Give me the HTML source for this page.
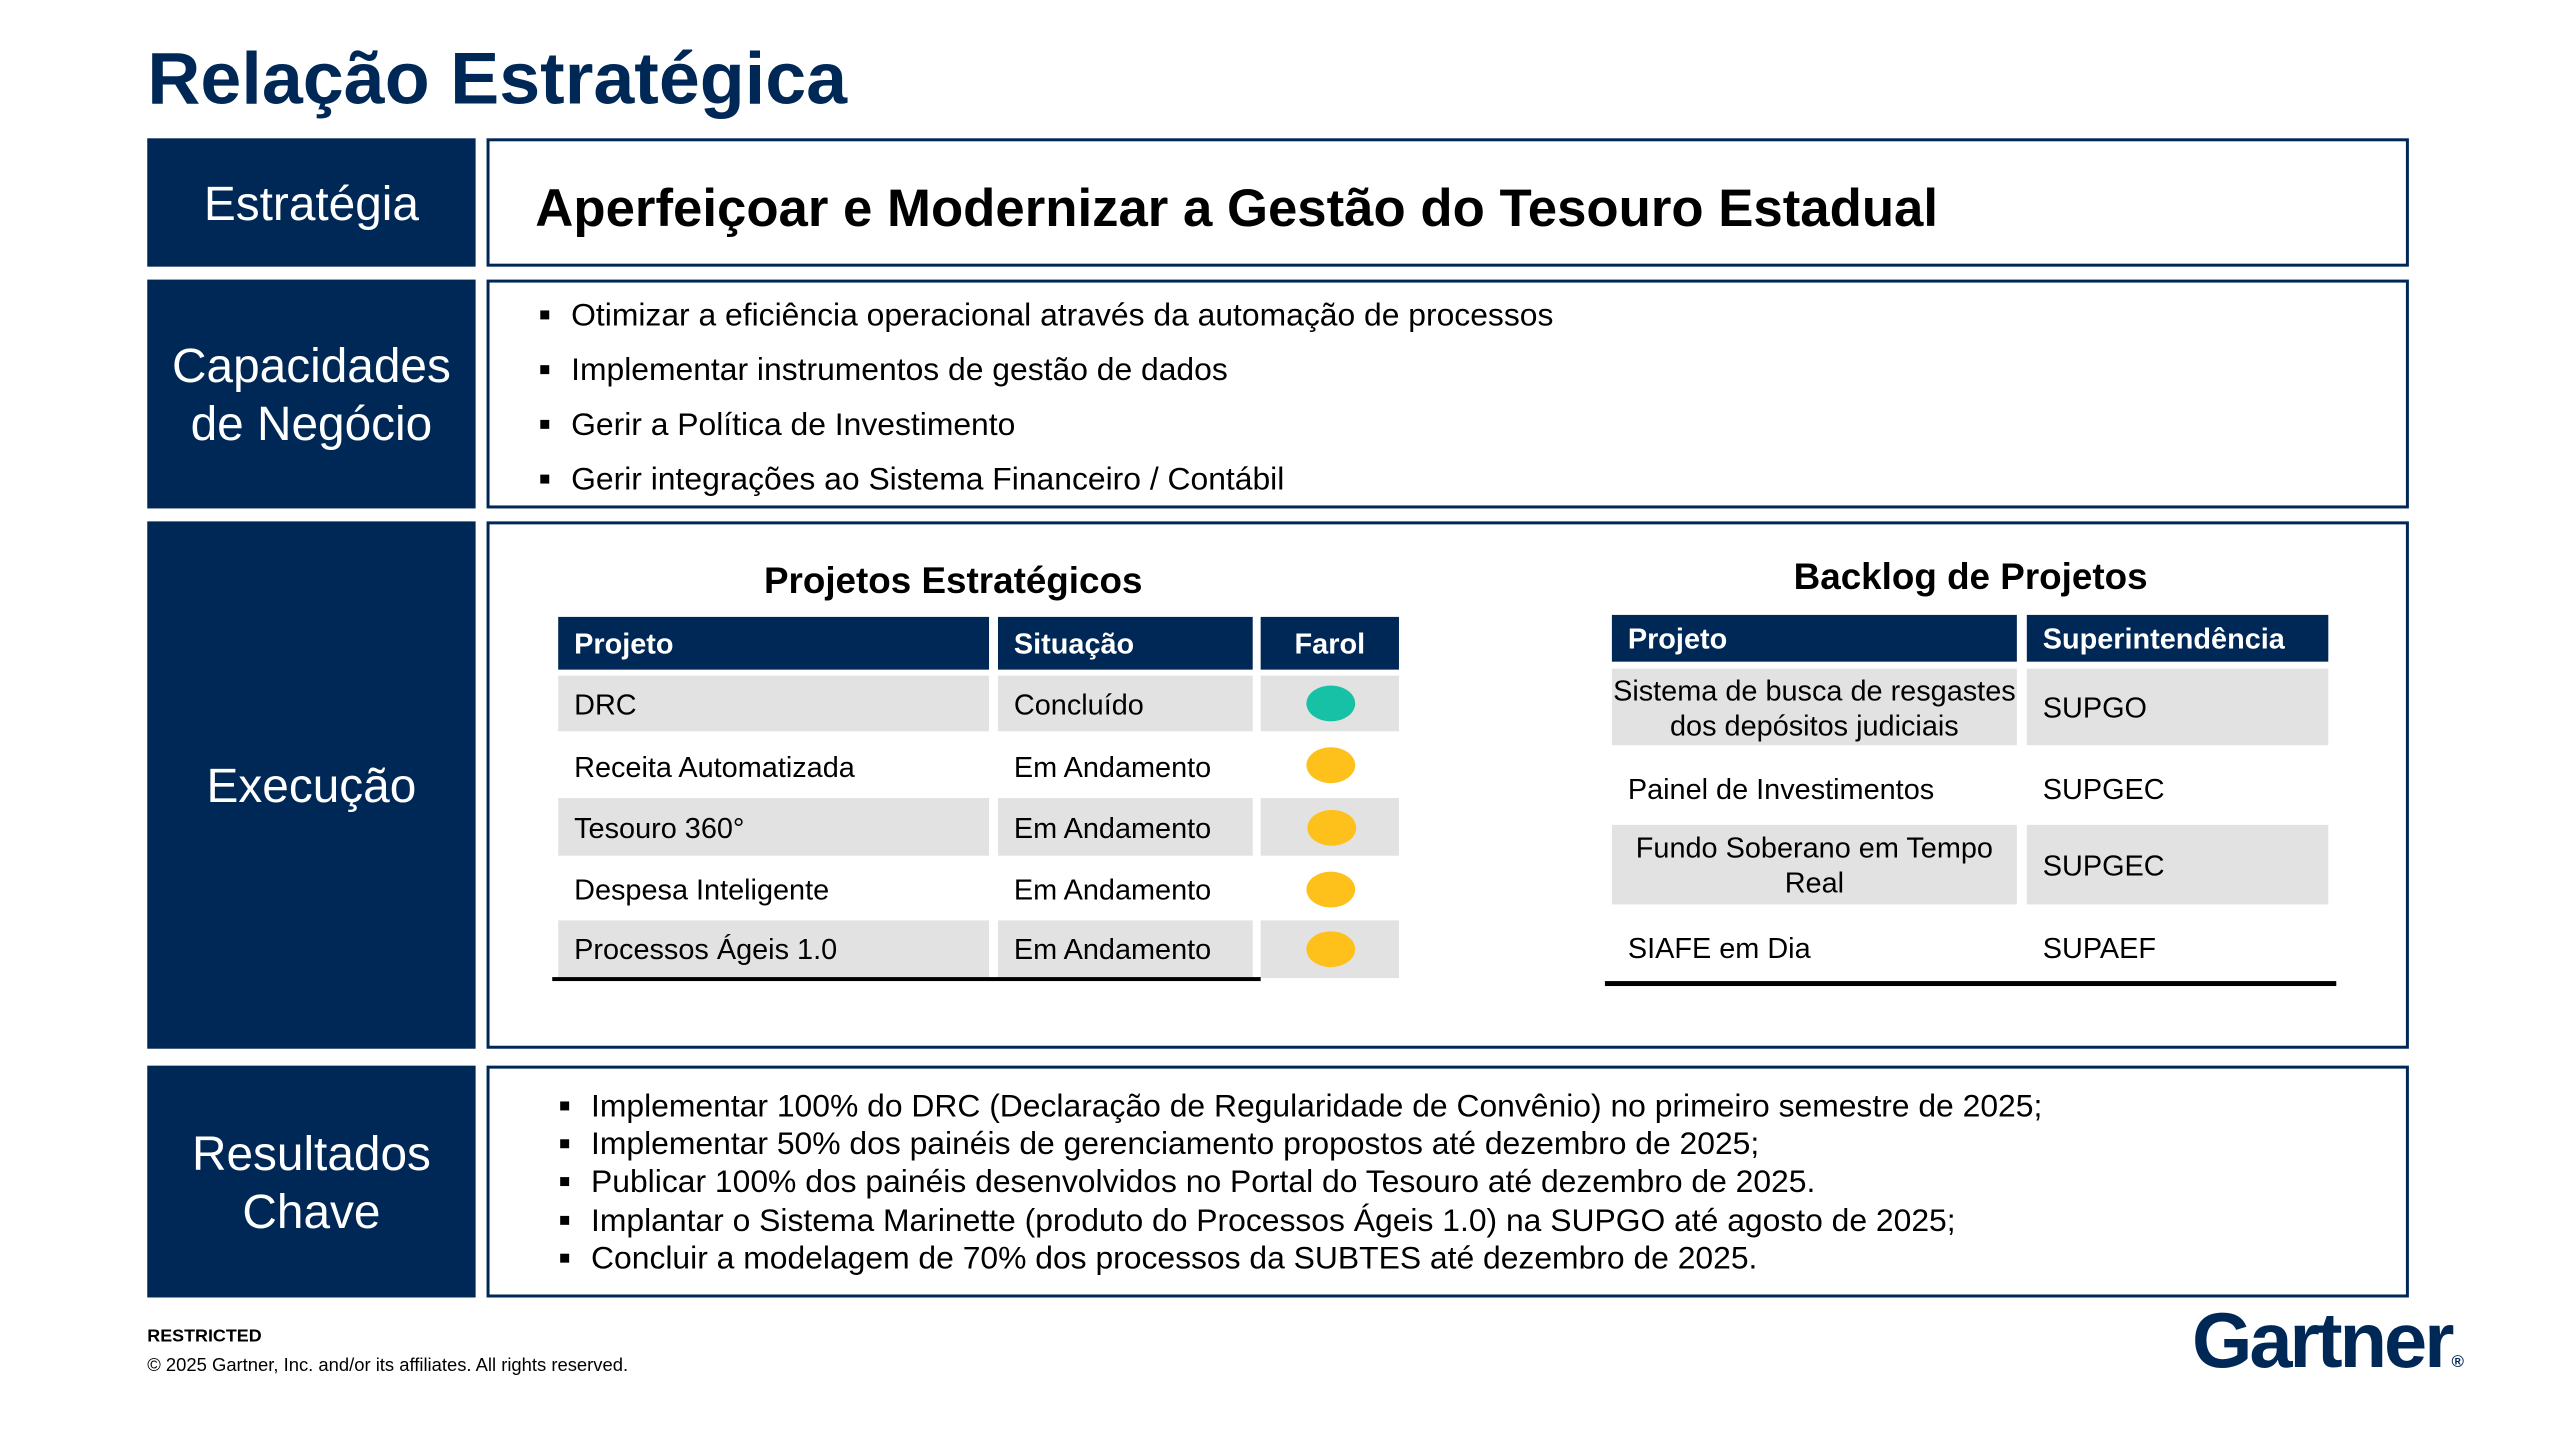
<!DOCTYPE html>
<html><head><meta charset="utf-8"><style>
*{margin:0;padding:0;box-sizing:border-box}
body{width:2560px;height:1440px;background:#fff;position:relative;overflow:hidden;font-family:"Liberation Sans",Arial,sans-serif;color:#000}
#w{position:absolute;left:0;top:0;width:2560px;height:1440px;transform:scale(0.995);transform-origin:0 0}
.a{position:absolute}
.nav{position:absolute;background:#002856;color:#fff;left:148px;width:330px;display:flex;align-items:center;justify-content:center;text-align:center;font-size:48px;line-height:58px;padding-top:4px}
.box{position:absolute;left:489px;width:1932px;border:3px solid #002856}
.bul{position:absolute;font-size:32px;white-space:nowrap}
.bul:before{content:"";position:absolute;left:-31px;top:14px;width:9px;height:9px;background:#000}
.c{position:absolute;display:flex;align-items:center;font-size:29px;white-space:nowrap;padding-left:16px;padding-top:4px}
.h{background:#002856;color:#fff;font-weight:bold}
.g{background:#e2e2e2}
.dot{position:absolute;width:49px;height:36px;border-radius:50%}
</style></head><body><div id="w">
<div class="a" style="left:148px;top:36px;font-size:74px;font-weight:bold;color:#002856">Relação Estratégica</div>

<div class="nav" style="top:139px;height:129px">Estratégia</div>
<div class="box" style="top:139px;height:129px"></div>
<div class="a" style="left:538px;top:179px;font-size:53px;font-weight:bold;white-space:nowrap">Aperfeiçoar e Modernizar a Gestão do Tesouro Estadual</div>

<div class="nav" style="top:281px;height:230px">Capacidades<br>de Negócio</div>
<div class="box" style="top:281px;height:230px"></div>
<div class="bul" style="left:574px;top:298px">Otimizar a eficiência operacional através da automação de processos</div>
<div class="bul" style="left:574px;top:353px">Implementar instrumentos de gestão de dados</div>
<div class="bul" style="left:574px;top:408px">Gerir a Política de Investimento</div>
<div class="bul" style="left:574px;top:463px">Gerir integrações ao Sistema Financeiro / Contábil</div>

<div class="nav" style="top:524px;height:530px">Execução</div>
<div class="box" style="top:524px;height:530px"></div>

<div class="a" style="left:535px;width:846px;top:563px;text-align:center;font-size:37px;font-weight:bold">Projetos Estratégicos</div>
<div class="c h" style="left:561px;top:620px;width:433px;height:53px">Projeto</div>
<div class="c h" style="left:1003px;top:620px;width:256px;height:53px">Situação</div>
<div class="c h" style="left:1267px;top:620px;width:139px;height:53px;justify-content:center;padding-left:0">Farol</div>

<div class="c g" style="left:561px;top:679px;width:433px;height:56px">DRC</div>
<div class="c g" style="left:1003px;top:679px;width:256px;height:56px">Concluído</div>
<div class="c g" style="left:1267px;top:679px;width:139px;height:56px"></div>
<div class="c" style="left:561px;top:742px;width:433px;height:56px">Receita Automatizada</div>
<div class="c" style="left:1003px;top:742px;width:256px;height:56px">Em Andamento</div>
<div class="c g" style="left:561px;top:802px;width:433px;height:58px">Tesouro 360°</div>
<div class="c g" style="left:1003px;top:802px;width:256px;height:58px">Em Andamento</div>
<div class="c g" style="left:1267px;top:802px;width:139px;height:58px"></div>
<div class="c" style="left:561px;top:865px;width:433px;height:56px">Despesa Inteligente</div>
<div class="c" style="left:1003px;top:865px;width:256px;height:56px">Em Andamento</div>
<div class="c g" style="left:561px;top:925px;width:433px;height:57px">Processos Ágeis 1.0</div>
<div class="c g" style="left:1003px;top:925px;width:256px;height:57px">Em Andamento</div>
<div class="c g" style="left:1267px;top:925px;width:139px;height:58px"></div>
<div class="a" style="left:555px;top:982px;width:712px;height:4px;background:#000"></div>
<div class="dot" style="left:1313px;top:689px;background:#17c1a5"></div>
<div class="dot" style="left:1313px;top:751px;background:#fec01a"></div>
<div class="dot" style="left:1314px;top:814px;background:#fec01a"></div>
<div class="dot" style="left:1313px;top:876px;background:#fec01a"></div>
<div class="dot" style="left:1313px;top:936px;background:#fec01a"></div>

<div class="a" style="left:1613px;width:735px;top:559px;text-align:center;font-size:37px;font-weight:bold">Backlog de Projetos</div>
<div class="c h" style="left:1620px;top:618px;width:407px;height:47px">Projeto</div>
<div class="c h" style="left:2037px;top:618px;width:303px;height:47px">Superintendência</div>
<div class="c g" style="left:1620px;top:672px;width:407px;height:77px;justify-content:center;text-align:center;padding-left:0;white-space:normal;line-height:35px">Sistema de busca de resgastes dos depósitos judiciais</div>
<div class="c g" style="left:2037px;top:672px;width:303px;height:77px">SUPGO</div>
<div class="c" style="left:1620px;top:763px;width:407px;height:58px">Painel de Investimentos</div>
<div class="c" style="left:2037px;top:763px;width:303px;height:58px">SUPGEC</div>
<div class="c g" style="left:1620px;top:829px;width:407px;height:80px;justify-content:center;text-align:center;padding-left:20px;padding-right:20px;white-space:normal;line-height:35px">Fundo Soberano em Tempo Real</div>
<div class="c g" style="left:2037px;top:829px;width:303px;height:80px">SUPGEC</div>
<div class="c" style="left:1620px;top:923px;width:407px;height:58px">SIAFE em Dia</div>
<div class="c" style="left:2037px;top:923px;width:303px;height:58px">SUPAEF</div>
<div class="a" style="left:1613px;top:986px;width:735px;height:5px;background:#000"></div>

<div class="nav" style="top:1071px;height:233px">Resultados<br>Chave</div>
<div class="box" style="top:1071px;height:233px"></div>
<div class="bul" style="left:594px;top:1093px">Implementar 100% do DRC (Declaração de Regularidade de Convênio) no primeiro semestre de 2025;</div>
<div class="bul" style="left:594px;top:1131px">Implementar 50% dos painéis de gerenciamento propostos até dezembro de 2025;</div>
<div class="bul" style="left:594px;top:1169px">Publicar 100% dos painéis desenvolvidos no Portal do Tesouro até dezembro de 2025.</div>
<div class="bul" style="left:594px;top:1208px">Implantar o Sistema Marinette (produto do Processos Ágeis 1.0) na SUPGO até agosto de 2025;</div>
<div class="bul" style="left:594px;top:1246px">Concluir a modelagem de 70% dos processos da SUBTES até dezembro de 2025.</div>

<div class="a" style="left:148px;top:1332px;font-size:18px;font-weight:bold">RESTRICTED</div>
<div class="a" style="left:148px;top:1361px;font-size:18.5px">© 2025 Gartner, Inc. and/or its affiliates. All rights reserved.</div>
<div class="a" style="left:2203px;top:1302px;font-size:78px;font-weight:bold;color:#002856;letter-spacing:-3px">Gartner<span style="font-size:17px;letter-spacing:0">®</span></div>
</div></body></html>
